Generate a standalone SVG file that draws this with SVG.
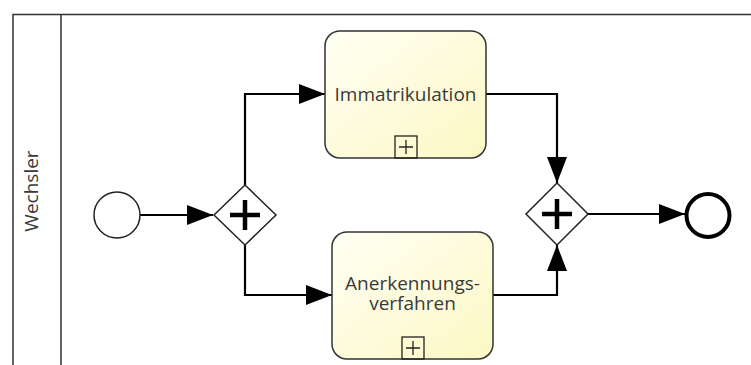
<svg xmlns="http://www.w3.org/2000/svg" width="751" height="365" viewBox="0 0 751 365">
  <style>
    .lane { fill: none; stroke: #333; stroke-width: 1.5; }
    .task { fill: url(#taskFill); stroke: #333; stroke-width: 1.5; }
    .marker { fill: none; stroke: #222; stroke-width: 1.3; }
    .gw { fill: #fff; stroke: #222; stroke-width: 1.5; }
    .plus { fill: none; stroke: #000; stroke-width: 4.5; }
    .flow { fill: none; stroke: #000; stroke-width: 2.2; marker-end: url(#arrow); }
    .label { font-family: "Open Sans", "DejaVu Sans", sans-serif; font-size: 19px; fill: #3a3a3a; text-anchor: middle; }
  </style>
  <defs>
    <linearGradient id="taskFill" x1="0" y1="0" x2="1" y2="1">
      <stop offset="0" stop-color="#fffff4"/>
      <stop offset="1" stop-color="#fcf8c4"/>
    </linearGradient>
    <marker id="arrow" viewBox="0 0 26 20" refX="26" refY="10" markerWidth="26" markerHeight="20" markerUnits="userSpaceOnUse" orient="auto">
      <path d="M0,0 L26,10 L0,20 Z" fill="#000"/>
    </marker>
  </defs>

  <!-- pool / lane -->
  <g id="lane-wechsler">
    <path class="lane" d="M751,14.5 H13 V365 M61,14.5 V365"/>
    <text class="label" transform="translate(38,191) rotate(-90)">Wechsler</text>
  </g>

  <!-- sequence flows -->
  <g id="connectors">
    <path class="flow" d="M140,215 H213"/>
    <path class="flow" d="M245,185 V94 H325"/>
    <path class="flow" d="M245,245 V295 H332"/>
    <path class="flow" d="M486,94 H557 V183"/>
    <path class="flow" d="M493,295 H557 V245"/>
    <path class="flow" d="M588,214 H685"/>
  </g>

  <g id="start-event">
    <circle cx="117" cy="215" r="23" fill="#fff" stroke="#222" stroke-width="1.5"/>
  </g>

  <g id="split-gateway">
    <path class="gw" d="M245,185 L276,215 L245,245 L214,215 Z"/>
    <path class="plus" d="M230,215 H260 M245,200 V230"/>
  </g>

  <g id="task-immatrikulation">
    <rect class="task" x="325" y="31" width="161" height="127" rx="15"/>
    <text class="label" x="405.5" y="101">Immatrikulation</text>
    <rect class="marker" x="395" y="136" width="22" height="22"/>
    <path class="marker" d="M399,147 H413 M406,140 V154"/>
  </g>

  <g id="task-anerkennungsverfahren">
    <rect class="task" x="332" y="232" width="161" height="127" rx="15"/>
    <text class="label" x="412.5" y="290">Anerkennungs-</text>
    <text class="label" x="412.5" y="310">verfahren</text>
    <rect class="marker" x="402" y="337" width="22" height="22"/>
    <path class="marker" d="M406,348 H420 M413,341 V355"/>
  </g>

  <g id="join-gateway">
    <path class="gw" d="M557,183 L588,214 L557,245 L526,214 Z"/>
    <path class="plus" d="M542,214 H572 M557,199 V229"/>
  </g>

  <g id="end-event">
    <circle cx="708" cy="215.5" r="21.5" fill="#fff" stroke="#000" stroke-width="4"/>
  </g>
</svg>
